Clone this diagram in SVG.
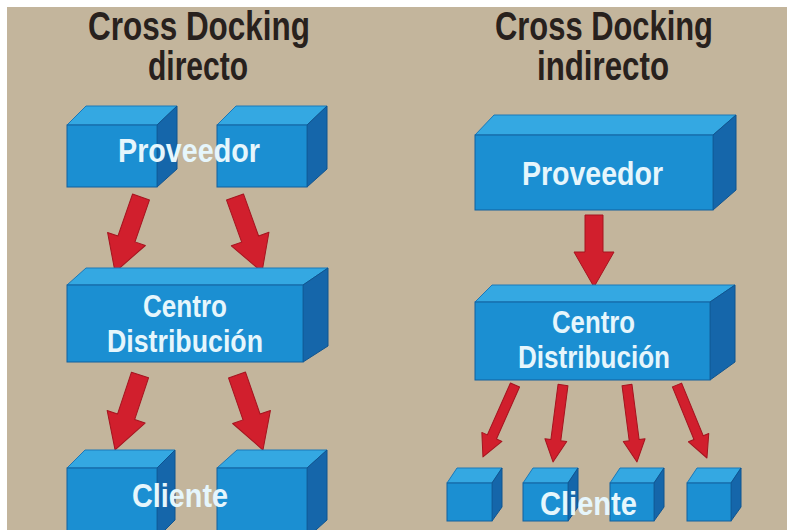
<svg xmlns="http://www.w3.org/2000/svg" width="787" height="530" viewBox="0 0 787 530">
<defs>
<style>
.bg{fill:#c3b59c}
.front{fill:#1b8fd2;stroke:#12609e;stroke-width:1}
.top{fill:#34a8e2;stroke:#1a78b8;stroke-width:1}
.side{fill:#1566aa;stroke:#0f5490;stroke-width:1}
.arrow{fill:#d11f2d;stroke:#a5141f;stroke-width:1;stroke-linejoin:round}
.title{font-family:"Liberation Sans",Arial,sans-serif;font-weight:bold;fill:#28211d;text-anchor:start}
.lbl{font-family:"Liberation Sans",Arial,sans-serif;font-weight:bold;fill:#e6f6fc;text-anchor:start}
</style>
</defs>
<rect x="0" y="0" width="787" height="530" fill="#ffffff"/>
<rect class="bg" x="7" y="7" width="780" height="523"/>

<g id="titles">
<text class="title" x="88" y="40" font-size="40" textLength="222" lengthAdjust="spacingAndGlyphs">Cross Docking</text>
<text class="title" x="148" y="80" font-size="40" textLength="100" lengthAdjust="spacingAndGlyphs">directo</text>
<text class="title" x="495" y="40" font-size="40" textLength="218" lengthAdjust="spacingAndGlyphs">Cross Docking</text>
<text class="title" x="537" y="80" font-size="40" textLength="132" lengthAdjust="spacingAndGlyphs">indirecto</text>
</g>

<g id="connectors">
<polygon class="arrow" transform="translate(141,197) rotate(19.1)" points="-9,0 9,0 9,44.4 20,44.4 0,79.4 -20,44.4 -9,44.4"/>
<polygon class="arrow" transform="translate(235,197) rotate(-19.8)" points="-9,0 9,0 9,44.7 20,44.7 0,79.7 -20,44.7 -9,44.7"/>
<polygon class="arrow" transform="translate(140,375) rotate(18.4)" points="-9,0 9,0 9,44 20,44 0,79 -20,44 -9,44"/>
<polygon class="arrow" transform="translate(237,375) rotate(-19.1)" points="-9,0 9,0 9,44.4 20,44.4 0,79.4 -20,44.4 -9,44.4"/>
<polygon class="arrow" points="585,215 603,215 603,252 614,252 594,287 574,252 585,252"/>
<polygon class="arrow" transform="translate(515,385) rotate(24)" points="-5,0 5,0 5,56.8 11,56.8 0,78.8 -11,56.8 -5,56.8"/>
<polygon class="arrow" transform="translate(563,385) rotate(7.4)" points="-5,0 5,0 5,55.6 11,55.6 0,77.6 -11,55.6 -5,55.6"/>
<polygon class="arrow" transform="translate(627,385) rotate(-7.4)" points="-5,0 5,0 5,55.6 11,55.6 0,77.6 -11,55.6 -5,55.6"/>
<polygon class="arrow" transform="translate(677,385) rotate(-22.3)" points="-5,0 5,0 5,56.9 11,56.9 0,78.9 -11,56.9 -5,56.9"/>
</g>

<g id="proveedor-left-1">
<polygon class="top" points="67,125 86,106 177,106 157,125"/>
<polygon class="side" points="157,125 177,106 177,169 157,187"/>
<rect class="front" x="67" y="125" width="90" height="62"/>
</g>
<g id="proveedor-left-2">
<polygon class="top" points="217,125 236,106 327,106 307,125"/>
<polygon class="side" points="307,125 327,106 327,169 307,187"/>
<rect class="front" x="217" y="125" width="90" height="62"/>
</g>
<text class="lbl" x="118" y="162" font-size="34" textLength="142" lengthAdjust="spacingAndGlyphs">Proveedor</text>

<g id="centro-left">
<polygon class="top" points="67,285 86,268 328,268 303,285"/>
<polygon class="side" points="303,285 328,268 328,346 303,362"/>
<rect class="front" x="67" y="285" width="236" height="77"/>
<text class="lbl" x="143" y="317" font-size="31" textLength="84" lengthAdjust="spacingAndGlyphs">Centro</text>
<text class="lbl" x="107" y="352" font-size="31" textLength="156" lengthAdjust="spacingAndGlyphs">Distribución</text>
</g>

<g id="cliente-left-1">
<polygon class="top" points="67,468 85,450 175,450 157,468"/>
<polygon class="side" points="157,468 175,450 175,520 157,538"/>
<rect class="front" x="67" y="468" width="90" height="70"/>
</g>
<g id="cliente-left-2">
<polygon class="top" points="217,468 237,450 327,450 307,468"/>
<polygon class="side" points="307,468 327,450 327,520 307,538"/>
<rect class="front" x="217" y="468" width="90" height="70"/>
</g>
<text class="lbl" x="132" y="507" font-size="34" textLength="96" lengthAdjust="spacingAndGlyphs">Cliente</text>

<g id="proveedor-right">
<polygon class="top" points="475,135 494,115 736,115 713,135"/>
<polygon class="side" points="713,135 736,115 736,190 713,210"/>
<rect class="front" x="475" y="135" width="238" height="75"/>
<text class="lbl" x="522" y="185" font-size="33" textLength="141" lengthAdjust="spacingAndGlyphs">Proveedor</text>
</g>

<g id="centro-right">
<polygon class="top" points="475,302 492,285 735,285 710,302"/>
<polygon class="side" points="710,302 735,285 735,362 710,380"/>
<rect class="front" x="475" y="302" width="235" height="78"/>
<text class="lbl" x="552" y="333" font-size="31" textLength="83" lengthAdjust="spacingAndGlyphs">Centro</text>
<text class="lbl" x="518" y="368" font-size="31" textLength="152" lengthAdjust="spacingAndGlyphs">Distribución</text>
</g>

<g id="cliente-right-1">
<polygon class="top" points="447,483 457,468 502,468 492,483"/>
<polygon class="side" points="492,483 502,468 502,507 492,521"/>
<rect class="front" x="447" y="483" width="45" height="38"/>
</g>
<g id="cliente-right-2">
<polygon class="top" points="523,483 533,468 578,468 568,483"/>
<polygon class="side" points="568,483 578,468 578,507 568,521"/>
<rect class="front" x="523" y="483" width="45" height="38"/>
</g>
<g id="cliente-right-3">
<polygon class="top" points="610,483 620,468 664,468 654,483"/>
<polygon class="side" points="654,483 664,468 664,507 654,521"/>
<rect class="front" x="610" y="483" width="44" height="38"/>
</g>
<g id="cliente-right-4">
<polygon class="top" points="687,483 697,468 741,468 731,483"/>
<polygon class="side" points="731,483 741,468 741,507 731,521"/>
<rect class="front" x="687" y="483" width="44" height="38"/>
</g>
<text class="lbl" x="540" y="515" font-size="33" textLength="97" lengthAdjust="spacingAndGlyphs">Cliente</text>
</svg>
